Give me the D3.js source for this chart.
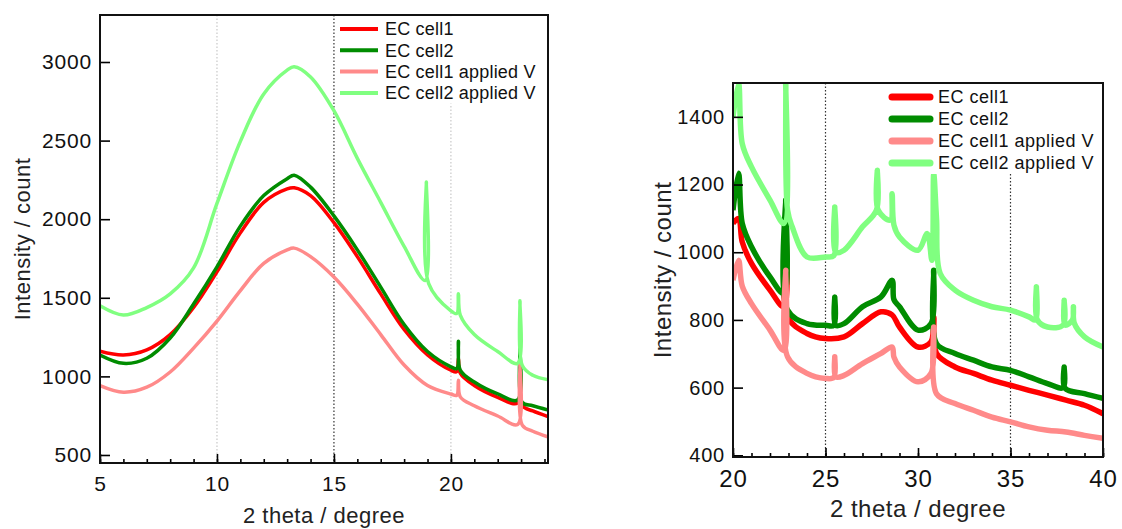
<!DOCTYPE html>
<html>
<head>
<meta charset="utf-8">
<script src="https://cdn.jsdelivr.net/npm/d3@7"></script>
<style>
  body { margin: 0; background: #fff; }
  svg text { font-family: "Liberation Sans", Arial, sans-serif; }
</style>
</head>
<body>
<svg id="chart" width="1122" height="529"></svg>
<script>
// legend labels
const seriesNames = ['EC cell1', 'EC cell2', 'EC cell1 applied V', 'EC cell2 applied V']
const seriesColors = ['#ff0000', '#008c00', '#ff8a8a', '#80ff80']

// left panel, 2 theta 5-24
const leftCell1 = [[5,1160],[6,1136],[7,1169],[8,1266],[9,1438],[10,1665],[11,1913],[12,2107],[13,2193],[13.3,2200],[14,2150],[15,1978],[16,1762],[17,1525],[18,1298],[19,1136],[20,1039],[20.25,1030],[20.32,1115],[20.4,1020],[21,942],[22,867],[22.85,830],[22.95,1093],[23.05,815],[23.5,780],[24.3,737]]
const leftCell2 = [[5,1136],[6,1083],[7,1115],[8,1244],[9,1460],[10,1697],[11,1956],[12,2150],[13,2258],[13.3,2280],[14,2204],[15,2021],[16,1805],[17,1568],[18,1330],[19,1158],[20,1061],[20.25,1050],[20.32,1223],[20.4,1040],[21,964],[22,888],[22.85,850],[22.95,1180],[23.05,835],[23.5,813],[24.3,780]]
const leftCell1V = [[5,942],[6,899],[7,931],[8,1028],[9,1180],[10,1352],[11,1546],[12,1719],[13,1805],[13.3,1816],[14,1762],[15,1632],[16,1460],[17,1266],[18,1072],[19,942],[20,888],[20.25,880],[20.32,975],[20.4,870],[21,813],[22,748],[22.85,694],[22.95,1082],[23.05,690],[23.5,651],[24.3,608]]
const leftCell2V = [[5,1449],[6,1390],[7,1438],[8,1525],[9,1690],[10,2100],[11,2495],[12,2797],[13,2948],[13.3,2970],[14,2905],[15,2690],[16,2387],[17,2107],[18,1827],[18.9,1610],[18.95,2236],[19.05,1590],[20,1417],[20.25,1400],[20.32,1525],[20.4,1390],[21,1266],[22,1158],[22.85,1083],[22.95,1481],[23.05,1070],[23.5,1007],[24.3,975]]
const leftYTicks = [500, 1000, 1500, 2000, 2500, 3000]
const leftXTicks = [5, 10, 15, 20]

// right panel, 2 theta 20-40
const rightCell1 = [[20,1085],[20.3,1100],[20.5,1030],[21,967],[22,888],[22.75,839],[22.85,1085],[22.95,809],[24,760],[25,745],[26,750],[27,789],[28,824],[28.6,815],[29,779],[30,720],[30.7,735],[30.85,809],[31,701],[32,661],[33,642],[34,622],[35,607],[36,592],[37,578],[38,563],[39,548],[40,523]]
const rightCell2 = [[20,1124],[20.3,1233],[20.5,1085],[21,1016],[22,927],[22.75,878],[22.85,1154],[22.95,829],[24,789],[25,784],[25.45,784],[25.5,868],[25.55,784],[26,789],[27,839],[28,868],[28.6,917],[28.7,860],[29,839],[30,770],[30.7,789],[30.85,947],[31,730],[32,701],[33,681],[34,661],[35,651],[36,632],[37,612],[37.85,600],[37.9,661],[37.95,598],[39,582],[40,568]]
const rightCell1V = [[20,917],[20.3,976],[20.5,900],[21,848],[22,770],[22.75,710],[22.85,947],[22.95,691],[24,642],[25,627],[25.45,630],[25.5,691],[25.55,632],[26,636],[27,671],[28,701],[28.6,720],[28.7,690],[29,661],[30,617],[30.7,642],[30.85,779],[31,582],[32,553],[33,533],[34,513],[35,499],[36,484],[37,474],[38,469],[39,459],[40,450]]
const rightCell2V = [[20,1400],[20.3,1498],[20.5,1321],[21,1252],[22,1154],[22.75,1085],[22.85,1500],[22.95,1124],[23.2,1075],[24,986],[25,986],[25.45,990],[25.5,1134],[25.55,1000],[26,1006],[27,1075],[27.75,1124],[27.8,1242],[27.85,1124],[28.5,1095],[28.6,1173],[28.7,1080],[29,1045],[30,1006],[30.5,1055],[30.75,976],[30.85,1233],[31,1100],[31.2,937],[32,888],[33,858],[34,839],[35,829],[36,809],[36.35,800],[36.4,898],[36.45,800],[37,779],[37.85,785],[37.9,858],[37.95,785],[38.35,800],[38.4,839],[38.45,790],[39,750],[40,720]]
const rightYTicks = [400, 600, 800, 1000, 1200, 1400]
const rightXTicks = [20, 25, 30, 35, 40]

const svg = d3.select('#chart')

function drawPanel(p) {
  const x = d3.scaleLinear().domain(p.xDomain).range([p.left, p.right])
  const y = d3.scaleLinear().domain(p.yDomain).range([p.bottom, p.top])
  const g = svg.append('g')

  const clipId = 'clip-' + p.id
  g.append('clipPath').attr('id', clipId)
    .append('rect')
    .attr('x', p.left).attr('y', p.top)
    .attr('width', p.right - p.left).attr('height', p.bottom - p.top)

  // dotted grid lines
  p.grid.forEach(gl => {
    g.append('line')
      .attr('x1', x(gl.v)).attr('x2', x(gl.v))
      .attr('y1', p.top).attr('y2', p.bottom)
      .attr('stroke', gl.dark ? '#333' : '#c8c8c8')
      .attr('stroke-width', 1.2)
      .attr('stroke-dasharray', '1.5,2')
  })

  const line = d3.line()
    .x(d => x(d[0]))
    .y(d => y(d[1]))
    .curve(d3.curveCatmullRom.alpha(0.5))

  const lines = g.append('g').attr('clip-path', `url(#${clipId})`)
  p.series.forEach((s, i) => {
    lines.append('path')
      .datum(s)
      .attr('fill', 'none')
      .attr('stroke', seriesColors[i])
      .attr('stroke-width', p.lineWidth)
      .attr('stroke-linejoin', 'round')
      .attr('d', line)
  })

  // minor x ticks
  const xMinor = d3.axisBottom(x)
    .tickValues(d3.range(Math.ceil(p.xDomain[0]), Math.floor(p.xDomain[1]) + 1))
    .tickSize(-4).tickFormat('')
  g.append('g').attr('transform', `translate(0,${p.bottom})`).call(xMinor)
    .call(a => a.select('.domain').remove())

  const xAxis = d3.axisBottom(x).tickValues(p.xTicks).tickSize(-9)
    .tickPadding(p.xPad).tickFormat(d3.format('d'))
  g.append('g').attr('transform', `translate(0,${p.bottom})`).call(xAxis)
    .call(a => a.select('.domain').remove())
    .call(a => a.selectAll('text').attr('font-size', p.xFont).attr('letter-spacing', 0.8).attr('fill', '#111'))

  const yAxis = d3.axisLeft(y).tickValues(p.yTicks).tickSize(-10)
    .tickPadding(p.yPad).tickFormat(d3.format('d'))
  g.append('g').attr('transform', `translate(${p.left},0)`).call(yAxis)
    .call(a => a.select('.domain').remove())
    .call(a => a.selectAll('text').attr('font-size', p.yFont).attr('letter-spacing', 0.8).attr('fill', '#111'))

  g.selectAll('.tick line').attr('stroke', '#000').attr('stroke-width', 1.6)

  // legend, white box hides the grid line behind it
  const lg = p.legend
  g.append('rect')
    .attr('x', lg.x - 5).attr('y', lg.y - lg.step / 2 - 2)
    .attr('width', p.right - lg.x + 3).attr('height', lg.step * 4 + 2)
    .attr('fill', '#fff')
  seriesNames.forEach((name, i) => {
    const ly = lg.y + i * lg.step
    g.append('line')
      .attr('x1', lg.x).attr('x2', lg.x + lg.len)
      .attr('y1', ly).attr('y2', ly)
      .attr('stroke', seriesColors[i])
      .attr('stroke-width', lg.width)
      .attr('stroke-linecap', lg.cap)
    g.append('text')
      .attr('x', lg.x + lg.len + lg.gap).attr('y', ly)
      .attr('dy', '0.36em')
      .attr('font-size', lg.font)
      .attr('letter-spacing', lg.spacing)
      .attr('fill', '#111')
      .text(name)
  })

  // frame
  g.append('rect')
    .attr('x', p.left).attr('y', p.top)
    .attr('width', p.right - p.left).attr('height', p.bottom - p.top)
    .attr('fill', 'none').attr('stroke', '#111').attr('stroke-width', 2)

  // titles
  g.append('text')
    .attr('x', (p.left + p.right) / 2).attr('y', p.xTitleY)
    .attr('text-anchor', 'middle').attr('font-size', p.titleFont).attr('letter-spacing', 0.5)
    .attr('fill', '#222')
    .text('2 theta / degree')
  g.append('text')
    .attr('transform', `translate(${p.yTitleX},${(p.top + p.bottom) / 2}) rotate(-90)`)
    .attr('text-anchor', 'middle').attr('font-size', p.titleFont).attr('letter-spacing', 0.5)
    .attr('fill', '#222')
    .text('Intensity / count')
}

drawPanel({
  id: 'left',
  left: 100, right: 548, top: 15, bottom: 463,
  xDomain: [5, 24.15], yDomain: [449, 3299],
  xTicks: leftXTicks, yTicks: leftYTicks,
  xPad: 13, yPad: 8, xFont: 21, yFont: 21, titleFont: 22,
  xTitleY: 523, yTitleX: 30,
  grid: [{v: 10, dark: false}, {v: 15, dark: true}, {v: 20, dark: false}],
  series: [leftCell1, leftCell2, leftCell1V, leftCell2V],
  lineWidth: 3.5,
  legend: {x: 340, y: 29, step: 21.3, len: 38, gap: 7, width: 4, cap: 'butt', font: 18, spacing: 0.2}
})

drawPanel({
  id: 'right',
  left: 733, right: 1103, top: 83, bottom: 457,
  xDomain: [20, 40], yDomain: [395, 1500],
  xTicks: rightXTicks, yTicks: rightYTicks,
  xPad: 13, yPad: 8, xFont: 24, yFont: 20, titleFont: 24,
  xTitleY: 517, yTitleX: 671,
  grid: [{v: 25, dark: true}, {v: 35, dark: true}],
  series: [rightCell1, rightCell2, rightCell1V, rightCell2V],
  lineWidth: 5.5,
  legend: {x: 892, y: 97, step: 22, len: 38, gap: 8, width: 7, cap: 'round', font: 18, spacing: 0.5}
})
</script>
</body>
</html>
